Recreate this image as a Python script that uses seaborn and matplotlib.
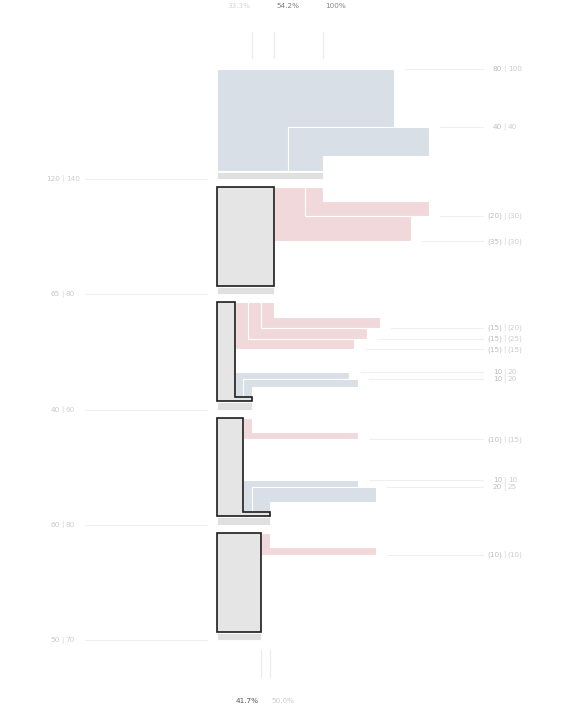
import matplotlib
matplotlib.use('Agg')
import matplotlib.pyplot as plt
import seaborn as sns

# totals at each level (first | second number)
totals_a = [120, 65, 40, 60, 50]
totals_b = [140, 80, 60, 80, 70]

# flows for each stage, stage 0 feeds the first level
out_a = [[], [20, 35], [15, 15, 15], [10], [10]]
out_b = [[], [30, 30], [20, 25, 15], [15], [10]]
in_a = [[80, 40], [], [10, 10], [10, 20], []]
in_b = [[100, 40], [], [20, 20], [10, 25], []]

top_pcts = [33.3, 54.2, 100.0]
bottom_pcts = [41.7, 50.0]

sns.set_theme(style='white')
plt.rcParams['font.family'] = ['DejaVu Sans']

BLUE = '#d9dfe6'
RED = '#f1d9db'
BOX = '#e5e5e5'
STRIP_C = '#e0e0e0'
LINE_C = '#efefef'
FS = 5.2

W, H = 572, 708
X0 = 217          # pixel of zero on the x scale
KX, KY = 106 / 120, 0.725   # pixels per unit


def py(p):
    return p / KY


def pxw(p):
    return p / KX


fig = plt.figure(figsize=(W / 100, H / 100), dpi=100)
ax = fig.add_axes([0, 0, 1, 1])
ax.set_xlim(-X0 / KX, (W - X0) / KX)
ax.set_ylim(H / KY, 0)
ax.axis('off')

L0, STEP = py(179), py(115.3)
ARM = 120
GAP, STRIP, PAD, FOOT = py(14.5), py(7.5), py(8), py(4)
level_y = [L0 + i * STEP for i in range(len(totals_a))]

SEP_X = pxw(504.3 - X0)
LEAD_END = pxw(483 - X0)


def right_label(y, a, b, paren):
    fa = '({})' if paren else '{}'
    ax.text(SEP_X - pxw(2.2), y, fa.format(a), ha='right', va='center', fontsize=FS, color='#bdbdbd')
    ax.text(SEP_X, y, '|', ha='center', va='center', fontsize=FS, color='#d6d6d6')
    ax.text(SEP_X + pxw(3.4), y, fa.format(b), ha='left', va='center', fontsize=FS, color='#cccccc')


def leader(xe, y):
    ax.plot([xe + pxw(11), LEAD_END], [y, y], color=LINE_C, lw=0.8, zorder=1)


for k in range(len(totals_a)):
    if k == 0:
        top = None
        bottom = L0 - STRIP - py(1)
        rem = 0
    else:
        top = level_y[k - 1] + PAD
        bottom = level_y[k] - STRIP - py(1)
        rem = totals_a[k - 1] - sum(out_a[k])

    # outflows hang from the box top, bottom bar has the nearest stem
    yb = (top or 0) + GAP
    for i, (va, vb) in enumerate(zip(out_a[k], out_b[k])):
        s0 = rem + sum(out_a[k][i + 1:])
        s1 = s0 + va
        xe = s0 + va + ARM
        ax.fill([s0, s1, s1, xe, xe, s0], [top, top, yb, yb, yb + va, yb + va],
                facecolor=RED, edgecolor='white', lw=0.8, zorder=2)
        leader(xe, yb + va)
        right_label(yb + va, va, vb, True)
        yb += va

    # inflows rise to the box bottom, top bar has the nearest stem
    yb = bottom - GAP - sum(in_a[k])
    for i, (va, vb) in enumerate(zip(in_a[k], in_b[k])):
        s0 = rem + sum(in_a[k][:i])
        s1 = s0 + va
        xe = s0 + va + ARM
        ax.fill([s0, xe, xe, s1, s1, s0], [yb, yb, yb + va, yb + va, bottom, bottom],
                facecolor=BLUE, edgecolor='white', lw=0.8, zorder=2)
        leader(xe, yb)
        right_label(yb, va, vb, False)
        yb += va

    if k > 0:
        if in_a[k]:
            xs = [0, rem, rem, totals_a[k], totals_a[k], 0]
            ys = [top, top, bottom - FOOT, bottom - FOOT, bottom, bottom]
        else:
            xs = [0, rem, rem, 0]
            ys = [top, top, bottom, bottom]
        ax.fill(xs, ys, facecolor=BOX, edgecolor='#1c1c1c', lw=1.2, joinstyle='miter', zorder=3)

# level strips, leader lines and labels on the left
LSEP = pxw(62.3 - X0)
for y, a, b in zip(level_y, totals_a, totals_b):
    ax.fill([0, a, a, 0], [y - STRIP, y - STRIP, y, y], facecolor=STRIP_C, edgecolor='white', lw=0.6, zorder=2)
    ax.plot([pxw(85 - X0), pxw(207 - X0)], [y, y], color=LINE_C, lw=0.8, zorder=1)
    ax.text(LSEP - pxw(2.2), y, str(a), ha='right', va='center', fontsize=FS, color='#c8c8c8')
    ax.text(LSEP, y, '|', ha='center', va='center', fontsize=FS, color='#d6d6d6')
    ax.text(LSEP + pxw(3.4), y, str(b), ha='left', va='center', fontsize=FS, color='#cfcfcf')

# percentage markers
top_colors = ['#d4d4d4', '#7d7d7d', '#8a8a8a']
top_align = ['right', 'left', 'left']
for p, c, al in zip(top_pcts, top_colors, top_align):
    x = p / 100 * totals_a[0]
    ax.plot([x, x], [py(31.7), py(58.3)], color='#ececec', lw=0.9)
    dx = -pxw(2) if al == 'right' else pxw(2)
    ax.text(x + dx, py(6), f'{p:.1f}%' if p < 100 else '100%', ha=al, va='center', fontsize=FS, color=c)

bottom_colors = ['#555555', '#cccccc']
bottom_align = ['right', 'left']
for p, c, al in zip(bottom_pcts, bottom_colors, bottom_align):
    x = p / 100 * totals_a[0]
    ax.plot([x, x], [py(650), py(677)], color='#ececec', lw=0.9)
    dx = -pxw(3) if al == 'right' else pxw(1.5)
    ax.text(x + dx, py(701), f'{p:.1f}%', ha=al, va='center', fontsize=FS, color=c)

fig.savefig('out.png', dpi=100, facecolor='white')
